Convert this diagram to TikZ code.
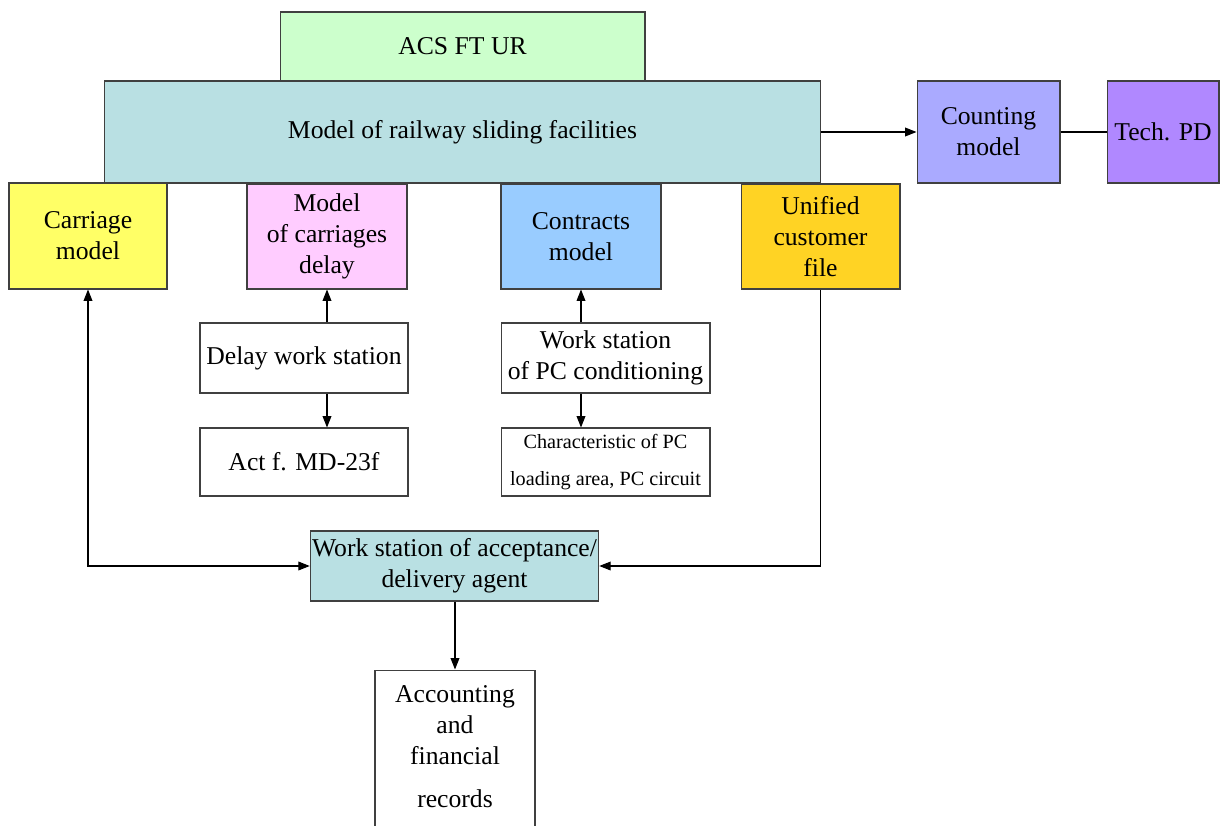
\documentclass[tikz,border=0pt]{standalone}
\usepackage{fontspec}
\setmainfont{Liberation Serif}
\usetikzlibrary{arrows.meta}
\definecolor{acsgreen}{RGB}{204,255,204}
\definecolor{railteal}{RGB}{185,224,227}
\definecolor{caryellow}{RGB}{255,255,102}
\definecolor{delaypink}{RGB}{255,204,255}
\definecolor{contrblue}{RGB}{153,204,255}
\definecolor{custgold}{RGB}{255,211,36}
\definecolor{countblue}{RGB}{170,170,255}
\definecolor{techviolet}{RGB}{176,136,255}

\begin{document}
\begin{tikzpicture}[x=0.02cm, y=-0.02cm,
    >={Triangle[length=6.5pt,width=5pt]},
    box/.style={draw=black!75, line width=0.6pt, align=center, inner sep=1pt,
        font=\fontsize{14.6}{17.6}\selectfont},
    link/.style={line width=0.6pt}]
    \useasboundingbox (0,0) rectangle (1222,825);
    \clip (0,0) rectangle (1222,825);
    \node[box, fill=acsgreen, minimum width=7.3cm, minimum height=1.38cm] at (462.5,46.5) (acs) {ACS FT UR};
    \node[box, fill=railteal, minimum width=14.34cm, minimum height=2.04cm] at (462.5,132) (rail) {Model of railway sliding facilities};
    \node[box, fill=caryellow, minimum width=3.16cm, minimum height=2.12cm] at (88,236) (car) {Carriage\\model};
    \node[box, fill=delaypink, minimum width=3.2cm, minimum height=2.1cm] at (327,236.5) (delay) {Model\\of carriages\\delay};
    \node[box, fill=contrblue, minimum width=3.2cm, minimum height=2.1cm] at (581,236.5) (contr) {Contracts\\model};
    \node[box, fill=custgold, minimum width=3.18cm, minimum height=2.1cm] at (820.5,236.5) (cust) {Unified\\customer\\file};
    \node[box, fill=countblue, minimum width=2.86cm, minimum height=2.04cm] at (988.5,132) (count) {Counting\\model};
    \node[box, fill=techviolet, minimum width=2.24cm, minimum height=2.04cm] at (1163,132) (tech) {Tech. PD};
    \node[box, minimum width=4.16cm, minimum height=1.4cm] at (304,358) (delayws) {Delay work station};
    \node[box, minimum width=4.16cm, minimum height=1.36cm] at (304,462) (act) {Act f. MD-23f};
    \node[box, minimum width=4.18cm, minimum height=1.4cm] at (605.5,358) (pcws) {Work station\\of PC conditioning};
    \node[box, minimum width=4.18cm, minimum height=1.36cm, font=\fontsize{11.5}{21}\selectfont] at (605.5,462) (pcchar) {Characteristic of PC\\loading area, PC circuit};
    \node[box, fill=railteal, minimum width=5.74cm, minimum height=1.4cm] at (454.5,566) (agent) {Work station of acceptance/\\delivery agent};
    \node[box, minimum width=3.2cm, minimum height=3.4cm, text depth=10pt] at (455,755) (acc) {Accounting\\and\\financial\\[7pt]records};

    \draw [link, ->] (rail.east) -- (count.west);
    \draw [link] (count.east) -- (tech.west);
    \draw [link, ->] (delayws.north -| delay) -- (delay.south);
    \draw [link, ->] (delayws.south -| delay) -- (act.north -| delay);
    \draw [link, ->] (pcws.north -| contr) -- (contr.south);
    \draw [link, ->] (pcws.south -| contr) -- (pcchar.north -| contr);
    \draw [link, <->] (car.south) |- (agent.west);
    \draw [link, ->] (cust.south) |- (agent.east);
    \draw [link, ->] (agent.south -| acc) -- (acc.north);
\end{tikzpicture}
\end{document}
